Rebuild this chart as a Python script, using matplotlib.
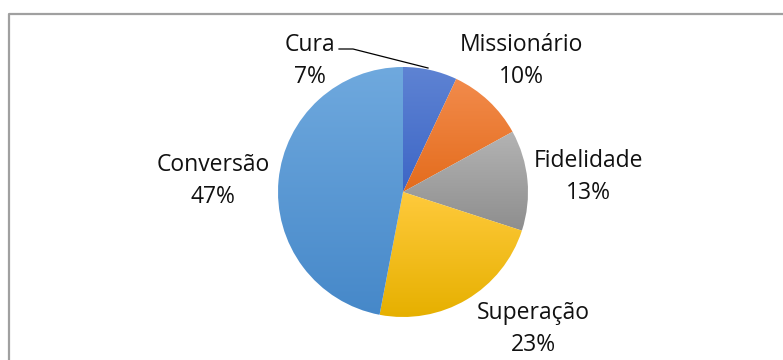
import numpy as np
import matplotlib.pyplot as plt
from matplotlib.colors import LinearSegmentedColormap

# Slice data, clockwise from 12 o'clock
categories = ['Cura', 'Missionário', 'Fidelidade', 'Superação', 'Conversão']
shares = [7, 10, 13, 23, 47]

# light (top) -> dark (bottom) for each slice
top_colors = ['#5E83D3', '#F28B4C', '#B3B3B3', '#FFCA3C', '#6FA9DE']
bottom_colors = ['#3D66C6', '#E46C1C', '#8E8E8E', '#E6B000', '#4688C9']

W, H = 783, 360
fig = plt.figure(figsize=(W / 100, H / 100), dpi=100)
ax = fig.add_axes([0, 0, 1, 1])

cx, cy, r = 403, H - 192, 125
wedges, _ = ax.pie(shares, startangle=90, counterclock=False, center=(cx, cy),
                   radius=r, frame=True, wedgeprops=dict(linewidth=0))
ax.set_aspect('equal')
ax.axis('off')

# vertical gradient fill clipped to each wedge
grad = np.linspace(0, 1, 256).reshape(-1, 1)
for w, c0, c1 in zip(wedges, top_colors, bottom_colors):
    w.set_facecolor('none')
    bb = w.get_path().get_extents(w.get_patch_transform())
    cmap = LinearSegmentedColormap.from_list('g', [c1, c0])
    im = ax.imshow(grad, cmap=cmap, origin='lower', aspect='auto',
                   extent=[bb.x0, bb.x1, bb.y0, bb.y1], zorder=1)
    im.set_clip_path(w)
ax.set_xlim(0, W)
ax.set_ylim(0, H)

# label anchor points (pixel layout)
label_pos = [(310, 61), (521, 61), (588, 177), (533, 329), (213, 181)]
for name, pct, (lx, ly) in zip(categories, shares, label_pos):
    ax.text(lx, H - ly, f'{name}\n{pct}%', ha='center', va='center',
            fontsize=16.5, family='Open Sans', color='#111111',
            linespacing=1.45)

# leader line for the small slice
ax.plot([339, 353, 428], [H - 49, H - 49, H - 68], color='black', lw=0.9,
        zorder=3)

# chart area border (only partly in view)
ax.plot([8.5, 8.5, W + 5], [-5, H - 13.5, H - 13.5], color='#A0A0A0', lw=1.6,
        clip_on=False)

fig.savefig('out.png', dpi=100)
